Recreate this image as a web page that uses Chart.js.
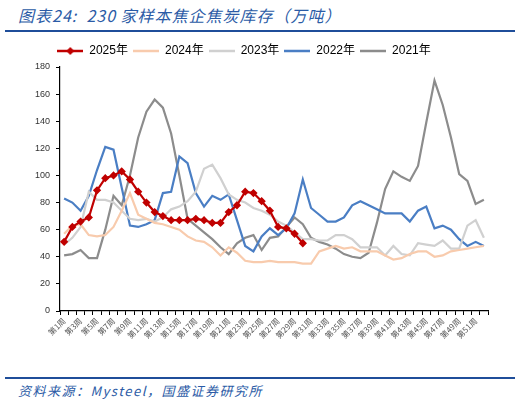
<!DOCTYPE html>
<html>
<head>
<meta charset="utf-8">
<script src="https://cdn.jsdelivr.net/npm/chart.js@4.4.1/dist/chart.umd.min.js"></script>
<style>
  html, body { margin: 0; padding: 0; background: #fff; }
  body { width: 520px; height: 405px; position: relative; overflow: hidden; font-family: "Liberation Sans", "Noto Sans CJK SC", sans-serif; }
  .title { position: absolute; left: 18px; top: 3px; font-size: 16px; letter-spacing: 1px; font-style: italic; color: #2b5ba6; font-family: "Noto Sans CJK SC", sans-serif; white-space: nowrap; }
  .rule { position: absolute; left: 5px; width: 510px; height: 2px; background: #1f4e9a; }
  .source { position: absolute; left: 18px; top: 381px; font-size: 13px; letter-spacing: 1.5px; font-style: italic; color: #2b5ba6; font-family: "Noto Sans CJK SC", sans-serif; white-space: nowrap; }
  .wrap { position: absolute; left: 0; top: 40px; width: 520px; height: 328px; }
</style>
</head>
<body>
<div class="title">图表24:&nbsp; 230 家样本焦企焦炭库存（万吨）</div>
<div class="rule" style="top:30px"></div>
<div class="wrap"><canvas id="c"></canvas></div>
<div class="rule" style="top:377px"></div>
<div class="source">资料来源：Mysteel，国盛证券研究所</div>
<script>
// week labels 第1周 … 第52周
const weeks = Array.from({ length: 52 }, (_, i) => '第' + (i + 1) + '周');

const y2025 = [51, 62, 66, 69, 89, 98, 100, 103, 97, 88, 80, 73, 70, 67, 67, 67, 68, 67, 65, 65,
  73, 78, 88, 87, 81, 74, 62, 61, 57, 50];
const y2024 = [57, 63, 64, 56, 55, 56, 62, 74, 87, 71, 68, 65, 64, 62, 60, 55, 52, 51, 47, 41,
  47, 43, 37, 36, 36, 37, 36, 36, 36, 35, 35, 44, 46, 48, 46, 47, 44, 44, 44, 41,
  38, 39, 42, 44, 44, 40, 41, 44, 45, 46, 47, 48];
const y2023 = [49, 54, 62, 88, 82, 82, 80, 74, 68, 67, 68, 66, 69, 75, 77, 81, 88, 105, 108, 98,
  86, 82, 80, 76, 74, 71, 66, 63, 58, 53, 53, 52, 52, 56, 56, 53, 47, 47, 47, 41,
  48, 42, 41, 50, 49, 48, 52, 46, 46, 63, 67, 54];
const y2022 = [83, 80, 74, 85, 104, 121, 119, 91, 63, 62, 64, 67, 87, 88, 114, 109, 87, 77, 85, 82,
  86, 67, 48, 44, 55, 61, 56, 61, 72, 97, 76, 71, 66, 66, 69, 78, 81, 78, 75, 72,
  72, 72, 66, 74, 77, 61, 63, 60, 53, 48, 51, 48];
const y2021 = [41, 42, 45, 39, 39, 60, 85, 78, 100, 128, 147, 156, 150, 131, 100, 68, 63, 58, 53, 47,
  42, 50, 54, 56, 45, 54, 55, 62, 69, 64, 54, 51, 49, 46, 42, 40, 39, 43, 65, 90,
  103, 99, 96, 107, 139, 170, 152, 128, 101, 96, 79, 82];

const yTicks = [0, 20, 40, 60, 80, 100, 120, 140, 160, 180];

const colors = ['#c00000', '#f8cbad', '#d0d0d0', '#4a7ec4', '#8c8c8c'];
const names = ['2025年', '2024年', '2023年', '2022年', '2021年'];
const values = [y2025, y2024, y2023, y2022, y2021];

// small legend swatches: a line, with a diamond for 2025
function swatch(color, diamond) {
  const cv = document.createElement('canvas');
  cv.width = 26; cv.height = 10;
  const g = cv.getContext('2d');
  g.strokeStyle = color; g.lineWidth = 2.5;
  g.beginPath(); g.moveTo(0, 5); g.lineTo(26, 5); g.stroke();
  if (diamond) {
    g.fillStyle = color;
    g.beginPath(); g.moveTo(13, 1); g.lineTo(17, 5); g.lineTo(13, 9); g.lineTo(9, 5); g.closePath(); g.fill();
  }
  return cv;
}
const icons = colors.map((c, i) => swatch(c, i === 0));

new Chart(document.getElementById('c'), {
  type: 'line',
  data: {
    labels: weeks,
    datasets: names.map((n, i) => ({
      label: n,
      data: values[i],
      borderColor: colors[i],
      backgroundColor: colors[i],
      borderWidth: i === 0 ? 2.2 : 2.2,
      pointRadius: i === 0 ? 2.6 : 0,
      pointStyle: 'rectRot',
      tension: 0
    }))
  },
  options: {
    responsive: true,
    maintainAspectRatio: false,
    animation: false,
    layout: { padding: { left: 0, right: 32, top: 0, bottom: 0 } },
    plugins: {
      tooltip: { enabled: false },
      legend: {
        position: 'top',
        labels: {
          usePointStyle: true,
          pointStyleWidth: 26,
          padding: 5,
          color: '#000',
          font: { size: 12, family: '"Liberation Sans", "Noto Sans CJK SC", sans-serif' },
          generateLabels: chart => Chart.defaults.plugins.legend.labels.generateLabels(chart)
            .map(l => Object.assign(l, { pointStyle: icons[l.datasetIndex] }))
        }
      }
    },
    scales: {
      x: {
        offset: true,
        afterFit: s => { s.height = 57; },
        border: { color: '#000', width: 1.2 },
        grid: { offset: true, drawOnChartArea: false, tickLength: 4, color: '#000' },
        ticks: {
          autoSkip: false,
          minRotation: 45,
          maxRotation: 45,
          color: '#555',
          font: { size: 8, family: '"Noto Sans CJK SC", sans-serif' },
          padding: 1,
          callback: (v, i) => (i % 2 === 0 ? weeks[i] : '')
        }
      },
      y: {
        min: 0,
        max: 180,
        afterFit: s => { s.width = 60; },
        afterBuildTicks: s => { s.ticks = yTicks.map(v => ({ value: v })); },
        border: { color: '#000', width: 1.2 },
        grid: { drawOnChartArea: false, tickLength: 4, color: '#000' },
        ticks: {
          color: '#333',
          font: { size: 9, family: '"Liberation Sans", sans-serif' },
          padding: 6
        }
      }
    }
  }
});
</script>
</body>
</html>
